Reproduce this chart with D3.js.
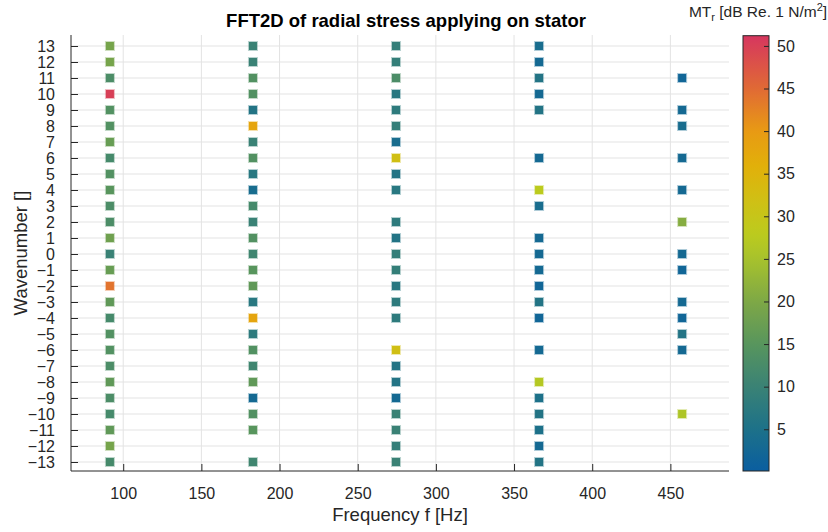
<!DOCTYPE html>
<html>
<head>
<meta charset="utf-8">
<script src="https://cdn.jsdelivr.net/npm/d3@7"></script>
<style>
  html, body { margin: 0; padding: 0; background: #fff; }
  svg { display: block; font-family: "Liberation Sans", Arial, Helvetica, sans-serif; }
</style>
</head>
<body>
<svg id="chart" width="828" height="532"></svg>
<script>
// ---------------- DATA ----------------
const frequencies = [91.5, 183, 274.5, 366, 457.5];           // Hz
const wavenumbers = [13,12,11,10,9,8,7,6,5,4,3,2,1,0,-1,-2,-3,-4,-5,-6,-7,-8,-9,-10,-11,-12,-13];
const xTickValues = [100, 150, 200, 250, 300, 350, 400, 450];
const colorTicks = [5, 10, 15, 20, 25, 30, 35, 40, 45, 50];
// magnitude (dB) per wavenumber (same order as wavenumbers); null = no point
const magF1 = [19,19,13,50,14,14,17,12,14,15,13,13,18,10,17,44,16,12,14,14,13,16,13,12,16,19,12];
const magF2 = [10,10,14,14,6,38,10,14,7,4,12,10,14,11,15,16,7,38,8,14,11,16,3,14,15,null,11];
const magF3 = [9,9,13,7,8,9,4,32,6,7,null,8,6,9,9,7,8,8,null,32,6,6,3,10,10,9,10];
const magF4 = [4,3,6,3,6,null,null,3,null,28,4,null,3,3,3,2,6,2,null,3,null,27,5,6,5,3,6];
const magF5 = [null,null,2,null,3,4,null,3,null,3,null,21,null,3,2,null,3,2,6,3,null,null,null,26,null,null,null];
const magnitudes = [magF1, magF2, magF3, magF4, magF5];
const colorDomain = [0.1, 51.2];
// colormap stops
const cmapValues = [0, 5, 10, 15, 20, 25, 28, 32, 36, 40, 45, 51.2];
const cmapColors = ["#0a5ea0","#1d7189","#3a8275","#58955d","#7ea846","#a7c22c","#bccb1e","#d0bf14","#e2b00a","#e89a14","#e06a35","#d6365f"];

// ---------------- LAYOUT ----------------
const svg = d3.select("#chart");
const plot = {left: 71, right: 729, top: 35, bottom: 471};
const axisColor = "#262626";
const gridColor = "#e3e3e3";

const x = d3.scaleLinear().domain([66.6, 487.5]).range([plot.left, plot.right]);
const y = d3.scaleLinear().domain([-13.5625, 13.6875]).range([plot.bottom, plot.top]);
const color = d3.scaleLinear().domain(cmapValues).range(cmapColors).interpolate(d3.interpolateRgb).clamp(true);

// grid
const grid = svg.append("g");
grid.selectAll("line.v").data(xTickValues).join("line")
  .attr("x1", d => x(d)).attr("x2", d => x(d))
  .attr("y1", plot.top).attr("y2", plot.bottom)
  .attr("stroke", gridColor).attr("stroke-width", 1);
grid.selectAll("line.h").data(wavenumbers).join("line")
  .attr("x1", plot.left).attr("x2", plot.right)
  .attr("y1", d => y(d)).attr("y2", d => y(d))
  .attr("stroke", gridColor).attr("stroke-width", 1);

// axes
const xAxis = d3.axisBottom(x).tickValues(xTickValues).tickSizeInner(-7).tickSizeOuter(0).tickPadding(17).tickFormat(d3.format("d"));
const gx = svg.append("g").attr("transform", `translate(0,${plot.bottom})`).call(xAxis);
const yAxis = d3.axisLeft(y).tickValues(wavenumbers).tickSizeInner(-7).tickSizeOuter(0).tickPadding(16).tickFormat(d3.format("d"));
const gy = svg.append("g").attr("transform", `translate(${plot.left},0)`).call(yAxis);
[gx, gy].forEach(g => {
  g.select(".domain").attr("stroke", axisColor).attr("stroke-width", 1)
    .attr("d", g === gx ? `M${plot.left},0H${plot.right}` : `M0,${plot.bottom}V${plot.top}`);
  g.selectAll(".tick line").attr("stroke", axisColor);
  g.selectAll(".tick text").attr("fill", axisColor).attr("font-size", 16);
});
gy.selectAll(".tick text").attr("dy", "0.35em");

// points
const points = [];
frequencies.forEach((f, i) => {
  magnitudes[i].forEach((m, j) => {
    if (m !== null) points.push({f, k: wavenumbers[j], m});
  });
});
const s = 8;
svg.append("g").selectAll("rect").data(points).join("rect")
  .attr("x", d => x(d.f) - s/2).attr("y", d => y(d.k) - s/2)
  .attr("width", s).attr("height", s)
  .attr("fill", d => color(d.m))
  .attr("stroke", d => color(d.m)).attr("stroke-opacity", 0.35).attr("stroke-width", 2);

// title & labels
svg.append("text").attr("x", 406).attr("y", 27).attr("text-anchor", "middle")
  .attr("font-size", 18.5).attr("font-weight", "bold").attr("fill", "#000")
  .text("FFT2D of radial stress applying on stator");
svg.append("text").attr("x", (plot.left + plot.right)/2).attr("y", 521).attr("text-anchor", "middle")
  .attr("font-size", 18.5).attr("fill", axisColor).text("Frequency f [Hz]");
svg.append("text").attr("transform", `translate(27,${(plot.top+plot.bottom)/2}) rotate(-90)`)
  .attr("text-anchor", "middle").attr("font-size", 18.5).attr("fill", axisColor).text("Wavenumber []");

// colorbar
const cb = {left: 743, right: 769, top: 35.7, bottom: 471};
const cy = d3.scaleLinear().domain(colorDomain).range([cb.bottom, cb.top]);
const defs = svg.append("defs");
const grad = defs.append("linearGradient").attr("id", "cbgrad")
  .attr("x1", 0).attr("y1", 1).attr("x2", 0).attr("y2", 0);
grad.selectAll("stop").data(d3.range(0, 1.0001, 0.02)).join("stop")
  .attr("offset", d => d)
  .attr("stop-color", d => color(colorDomain[0] + d * (colorDomain[1] - colorDomain[0])));
svg.append("rect").attr("x", cb.left).attr("y", cb.top)
  .attr("width", cb.right - cb.left).attr("height", cb.bottom - cb.top)
  .attr("fill", "url(#cbgrad)").attr("stroke", axisColor).attr("stroke-width", 1);
const cAxis = d3.axisRight(cy).tickValues(colorTicks).tickSizeInner(-5).tickSizeOuter(0).tickPadding(8);
const gc = svg.append("g").attr("transform", `translate(${cb.right},0)`).call(cAxis);
gc.select(".domain").remove();
gc.selectAll(".tick line").attr("stroke", axisColor);
gc.selectAll(".tick text").attr("fill", axisColor).attr("font-size", 16);

const cbl = svg.append("text").attr("x", 758).attr("y", 17).attr("text-anchor", "middle")
  .attr("font-size", 15.5).attr("fill", axisColor);
cbl.append("tspan").text("MT");
cbl.append("tspan").attr("font-size", 11).attr("dy", 4).text("r");
cbl.append("tspan").attr("dy", -4).text(" [dB Re. 1 N/m");
cbl.append("tspan").attr("font-size", 11).attr("dy", -6).text("2");
cbl.append("tspan").attr("dy", 6).text("]");
</script>
</body>
</html>
